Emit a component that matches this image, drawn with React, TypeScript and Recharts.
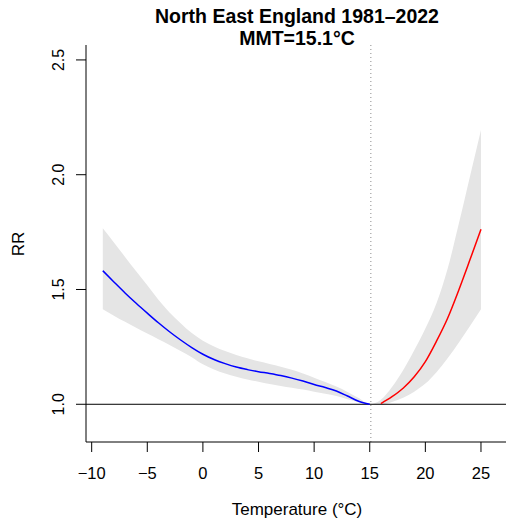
import React from 'react';
import {
  ComposedChart,
  Area,
  Line,
  XAxis,
  YAxis,
  ReferenceLine,
} from 'recharts';

// temperatures (°C) and estimated relative risk
const temps = [
  -9, -8, -7, -6, -5, -4, -3, -2, -1, 0, 1, 2, 3, 4, 5, 6, 7, 8, 9, 10, 11, 12,
  13, 14, 15, 16, 17, 18, 19, 20, 21, 22, 23, 24, 25,
];
const rrCold = [
  1.582, 1.533, 1.485, 1.44, 1.397, 1.355, 1.316, 1.28, 1.247, 1.218, 1.195,
  1.177, 1.162, 1.151, 1.142, 1.134, 1.125, 1.114, 1.101, 1.086, 1.073, 1.058,
  1.036, 1.013, 1.0,
];
const rrHeat = [1.003, 1.033, 1.07, 1.12, 1.186, 1.275, 1.375, 1.497, 1.628, 1.762];
const ciLow = [
  1.414, 1.386, 1.359, 1.333, 1.308, 1.283, 1.258, 1.232, 1.205, 1.174, 1.152,
  1.134, 1.12, 1.108, 1.098, 1.088, 1.08, 1.072, 1.064, 1.055, 1.046, 1.036,
  1.022, 1.009, 1.0, 0.998, 1.01, 1.028, 1.055, 1.09, 1.14, 1.2, 1.268, 1.34,
  1.414,
];
const ciHigh = [
  1.767, 1.705, 1.642, 1.58, 1.518, 1.455, 1.4, 1.353, 1.31, 1.277, 1.252,
  1.232, 1.215, 1.2, 1.187, 1.176, 1.164, 1.15, 1.134, 1.116, 1.097, 1.077,
  1.054, 1.027, 1.0, 1.02, 1.075, 1.148, 1.235, 1.33, 1.44, 1.59, 1.785, 1.99,
  2.195,
];
const mmt = 15.1;
const xTicks = [-10, -5, 0, 5, 10, 15, 20, 25];
const yTicks = [1.0, 1.5, 2.0, 2.5];

const data = temps.map((t, i) => ({
  t,
  band: [ciLow[i], ciHigh[i]],
  cold: i < rrCold.length ? rrCold[i] : null,
  heat: i >= rrCold.length ? rrHeat[i - rrCold.length] : null,
}));

const font = '"Liberation Sans", Arial, Helvetica, sans-serif';

const YTick = (props: any) => {
  const { x, y, payload } = props;
  return (
    <text
      x={x}
      y={y}
      transform={`rotate(-90 ${x} ${y})`}
      textAnchor="middle"
      fontSize={16}
      fontFamily={font}
      fill="#000"
    >
      {payload.value.toFixed(1)}
    </text>
  );
};

const App = () => {
  return (
    <div style={{ position: 'absolute', left: 0, top: 0 }}>
      <ComposedChart
        width={506}
        height={529}
        data={data}
        margin={{ top: 45, right: 0, left: 0, bottom: 0 }}
      >
        <XAxis
          dataKey="t"
          type="number"
          domain={[-10.51, 27.25]}
          ticks={xTicks}
          interval={0}
          allowDataOverflow
          height={87}
          stroke="#000"
          tickSize={10}
          tickMargin={15}
          tick={{ fill: '#000', fontSize: 16.5, fontFamily: font }}
          tickFormatter={(v: number) => (v < 0 ? `\u2212${Math.abs(v)}` : `${v}`)}
        />
        <YAxis
          type="number"
          domain={[0.8357, 2.565]}
          ticks={yTicks}
          interval={0}
          allowDataOverflow
          width={86}
          stroke="#000"
          tickSize={10}
          tickMargin={12}
          tick={<YTick />}
        />
        <Area
          dataKey="band"
          type="monotone"
          fill="#e5e5e5"
          fillOpacity={1}
          stroke="none"
          isAnimationActive={false}
        />
        <ReferenceLine x={mmt} stroke="#8c8c8c" strokeDasharray="1 3" />
        <ReferenceLine y={1} stroke="#000" />
        <Line
          dataKey="cold"
          type="monotone"
          stroke="#0000ff"
          strokeWidth={1.5}
          dot={false}
          connectNulls={false}
          isAnimationActive={false}
        />
        <Line
          dataKey="heat"
          type="monotone"
          stroke="#ff0000"
          strokeWidth={1.5}
          dot={false}
          connectNulls={false}
          isAnimationActive={false}
        />
        <text x={297} y={23} textAnchor="middle" fontSize={19.5} fontWeight="bold" fontFamily={font}>
          North East England 1981–2022
        </text>
        <text x={297} y={45} textAnchor="middle" fontSize={19.5} fontWeight="bold" fontFamily={font}>
          MMT=15.1°C
        </text>
        <text x={297} y={515} textAnchor="middle" fontSize={17} fontFamily={font}>
          Temperature (°C)
        </text>
        <text
          x={24}
          y={244}
          transform="rotate(-90 24 244)"
          textAnchor="middle"
          fontSize={17}
          fontFamily={font}
        >
          RR
        </text>
      </ComposedChart>
    </div>
  );
};

export default App;
